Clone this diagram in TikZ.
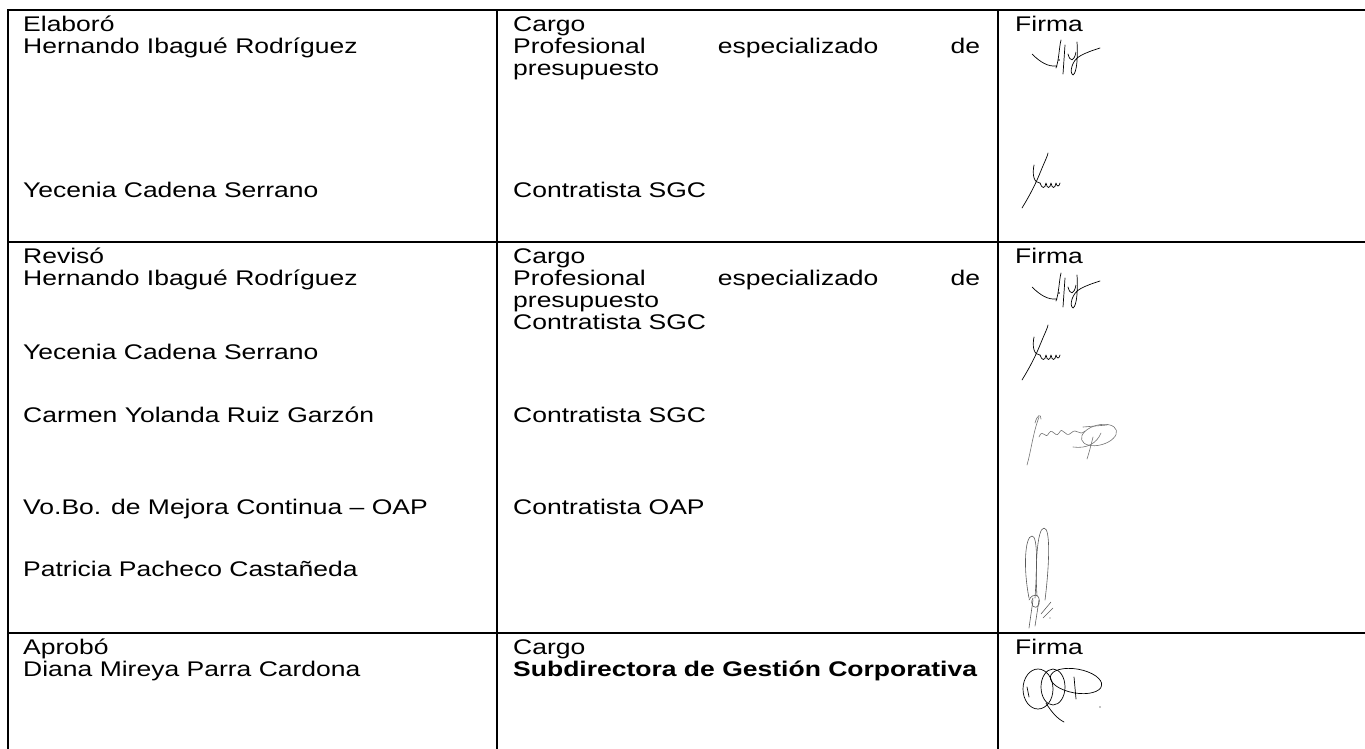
\documentclass[tikz,border=0pt]{standalone}
\usepackage{fontspec}
\setmainfont{Liberation Sans}
\newcommand{\sq}[1]{\scalebox{1}[0.8]{#1}}
\begin{document}
\begin{tikzpicture}[x=1pt,y=-1pt,
  txt/.style={anchor=base west,inner sep=0pt,font=\fontsize{26.5}{22}\selectfont},
  rule/.style={line width=2pt,line cap=rect},
  ink/.style={line width=0.7pt,black,line cap=round,line join=round},
  inkgray/.style={line width=0.6pt,black!55,line cap=round,line join=round},
  sigHY/.pic={
    \draw[ink] (0,14) .. controls (8,22) and (16,27) .. (25,26);
    \draw[ink] (24,28) .. controls (27,20) and (27,8) .. (29,0);
    \draw[ink] (31,34) -- (33,5);
    \fill (27,20) circle (0.8);
    \draw[ink] (36,14) .. controls (38,22) and (42,22) .. (44,12);
    \draw[ink] (45,2) .. controls (46,15) and (45,33) .. (41,35) .. controls (37,33) and (40,20) .. (48,16) .. controls (55,12) and (62,10) .. (68,8);
  },
  sigYu/.pic={
    \draw[ink] (0,55) .. controls (8,42) and (14,30) .. (18,20) .. controls (22,10) and (26,2) .. (26,0);
    \draw[ink] (12,12) .. controls (10,22) and (12,30) .. (18,30);
    \draw[ink] (18,30) .. controls (20,36) and (23,36) .. (24,30) .. controls (25,36) and (28,36) .. (29,30) .. controls (30,36) and (33,36) .. (34,30) .. controls (35,34) and (37,34) .. (38,30);
  },
  sigCR/.pic={
    \draw[inkgray] (0,52) .. controls (4,38) and (6,20) .. (12,4);
    \draw[inkgray] (8,10) .. controls (10,2) and (14,0) .. (14,6);
    \draw[inkgray] (12,24) .. controls (16,14) and (18,28) .. (22,20) .. controls (26,14) and (28,26) .. (32,20) .. controls (36,12) and (38,26) .. (44,20) .. controls (50,14) and (52,24) .. (58,18);
    \draw[inkgray,rotate around={15:(72,22)}] (72,22) ellipse (18 and 10);
    \draw[inkgray] (46,34) .. controls (60,36) and (70,30) .. (74,20);
    \draw[inkgray] (66,24) .. controls (64,32) and (62,40) .. (60,46);
    \draw[inkgray] (56,14) -- (80,12);
  },
  sigPP/.pic={
    \draw[inkgray,black!65] (6,70) .. controls (0,40) and (2,8) .. (9,8) .. controls (15,8) and (14,40) .. (12,70);
    \draw[inkgray,black!65] (14,68) .. controls (12,40) and (14,0) .. (21,0) .. controls (28,0) and (26,40) .. (22,72);
    \draw[inkgray,black!65] (6,72) .. controls (10,64) and (18,66) .. (16,76) .. controls (12,84) and (6,76) .. (10,70);
    \draw[inkgray,black!65] (10,72) -- (6,100);
    \draw[inkgray,black!65] (16,72) -- (12,98);
    \draw[inkgray,black!65] (18,86) -- (28,74);
    \draw[inkgray,black!65] (20,90) -- (30,80);
    \fill[black!65] (27,90) circle (0.7);
  },
  sigDM/.pic={
    \draw[ink] (16,22) ellipse (15 and 20);
    \draw[ink] (31,20) ellipse (12 and 18);
    \draw[ink,rotate around={-10:(54,14)}] (54,14) ellipse (26 and 12);
    \draw[ink] (5,20) -- (7,30);
    \draw[ink] (24,36) .. controls (30,46) and (36,52) .. (42,55);
    \draw[ink] (52,10) -- (54,32);
    \fill (78,40) circle (0.7);
  }]
\useasboundingbox (0,0) rectangle (1365,748);
% table rules
\draw[rule] (8,748) -- (8,10) -- (1365,10);
\draw[rule] (497,10) -- (497,748);
\draw[rule] (998,10) -- (998,748);
\draw[rule] (8,242) -- (1365,242);
\draw[rule] (8,633) -- (1365,633);
% row 1
\node[txt] (e1) at (23,31) {\sq{Elaboró}};
\node[txt] (e2) at (23,53) {\sq{Hernando Ibagué Rodríguez}};
\node[txt] (e3) at (23,197) {\sq{Yecenia Cadena Serrano}};
\node[txt] (c1) at (513,31) {\sq{Cargo}};
\node[txt] (c2) at (513,53) {\sq{\makebox[467pt][s]{Profesional especializado de}}};
\node[txt] (c3) at (513,75) {\sq{presupuesto}};
\node[txt] (c4) at (513,197) {\sq{Contratista SGC}};
\node[txt] (f1) at (1015,31) {\sq{Firma}};
\pic at (1032,40) {sigHY};
\pic at (1022,153) {sigYu};
% row 2
\node[txt] (r1) at (23,263) {\sq{Revisó}};
\node[txt] (r2) at (23,285) {\sq{Hernando Ibagué Rodríguez}};
\node[txt] (r3) at (23,359) {\sq{Yecenia Cadena Serrano}};
\node[txt] (r4) at (23,422) {\sq{Carmen Yolanda Ruiz Garzón}};
\node[txt] (r5) at (23,514) {\sq{Vo.Bo. de Mejora Continua – OAP}};
\node[txt] (r6) at (23,576) {\sq{Patricia Pacheco Castañeda}};
\node[txt] (d1) at (513,263) {\sq{Cargo}};
\node[txt] (d2) at (513,285) {\sq{\makebox[467pt][s]{Profesional especializado de}}};
\node[txt] (d3) at (513,307) {\sq{presupuesto}};
\node[txt] (d4) at (513,329) {\sq{Contratista SGC}};
\node[txt] (d5) at (513,422) {\sq{Contratista SGC}};
\node[txt] (d6) at (513,514) {\sq{Contratista OAP}};
\node[txt] (g1) at (1015,263) {\sq{Firma}};
\pic at (1032,273) {sigHY};
\pic at (1022,325) {sigYu};
\pic at (1027,413) {sigCR};
\pic at (1023,528) {sigPP};
% row 3
\node[txt] (a1) at (23,654) {\sq{Aprobó}};
\node[txt] (a2) at (23,676) {\sq{Diana Mireya Parra Cardona}};
\node[txt] (b1) at (513,654) {\sq{Cargo}};
\node[txt,font=\fontsize{26.5}{22}\selectfont\bfseries] (b2) at (513,676) {\sq{Subdirectora de Gestión Corporativa}};
\node[txt] (h1) at (1015,654) {\sq{Firma}};
\pic at (1022,667) {sigDM};
\end{tikzpicture}
\end{document}
